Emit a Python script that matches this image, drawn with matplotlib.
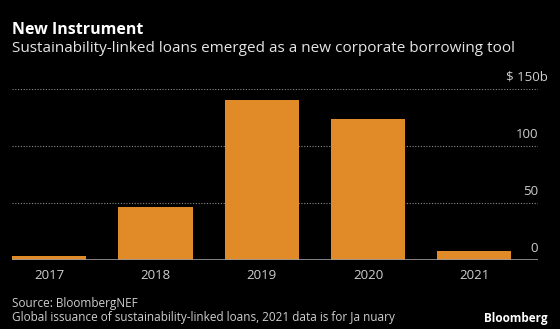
import matplotlib
matplotlib.use("Agg")
import matplotlib.pyplot as plt

# data (billions of dollars)
years = ["2017", "2018", "2019", "2020", "2021"]
issuance = [4, 46.5, 141, 124, 8]
y_ticks = [0, 50, 100, 150]
y_labels = ["0", "50", "100", "$ 150b"]

bg = "black"
bar_color = "#E08A28"
plt.rcParams["font.family"] = ["Open Sans", "DejaVu Sans"]

fig = plt.figure(figsize=(5.6, 3.29), dpi=100, facecolor=bg)
ax = fig.add_axes([12 / 560, 68.7 / 329, 526 / 560, 171 / 329], facecolor=bg)

x = range(len(years))
ax.bar(x, issuance, width=0.7, color=bar_color, zorder=2)

ax.set_xlim(-0.35, 4.6)
ax.set_ylim(0, 150)

# gridlines, dotted; the zero line is solid
for v in y_ticks[1:]:
    ax.axhline(v, color="#8a8a8a", lw=0.8, ls=(0, (1, 1.5)), zorder=1)
ax.axhline(0, color="#9a9a9a", lw=1.2, zorder=3)

# value labels sit above their gridline, at the right
for v, lab in zip(y_ticks, y_labels):
    dx = 7 if lab.endswith("b") else 0
    ax.annotate(lab, xy=(1.0, v), xycoords=("axes fraction", "data"),
                xytext=(dx, 4), textcoords="offset points",
                ha="right", va="bottom", color="#cfcfcf", fontsize=9.5)

ax.set_yticks([])
ax.set_xticks(list(x))
ax.set_xticklabels(years, color="#cfcfcf", fontsize=9.5)
ax.tick_params(axis="x", length=0, pad=6)
for s in ax.spines.values():
    s.set_visible(False)

fig.text(12 / 560, 1 - 34 / 329, "New Instrument", color="white",
         fontsize=11.5, fontweight="bold", ha="left", va="baseline")
fig.text(12 / 560, 1 - 52 / 329,
         "Sustainability-linked loans emerged as a new corporate borrowing tool",
         color="#e6e6e6", fontsize=11, ha="left", va="baseline")

fig.text(12 / 560, 1 - 307 / 329, "Source: BloombergNEF", color="#cfcfcf",
         fontsize=8.5, ha="left", va="baseline")
fig.text(12 / 560, 1 - 321 / 329,
         "Global issuance of sustainability-linked loans, 2021 data is for Ja nuary",
         color="#cfcfcf", fontsize=8.5, ha="left", va="baseline")
fig.text(548 / 560, 1 - 322 / 329, "Bloomberg", color="white",
         fontsize=8.5, fontweight="bold", ha="right", va="baseline")

fig.savefig("out.png", dpi=100, facecolor=bg)
